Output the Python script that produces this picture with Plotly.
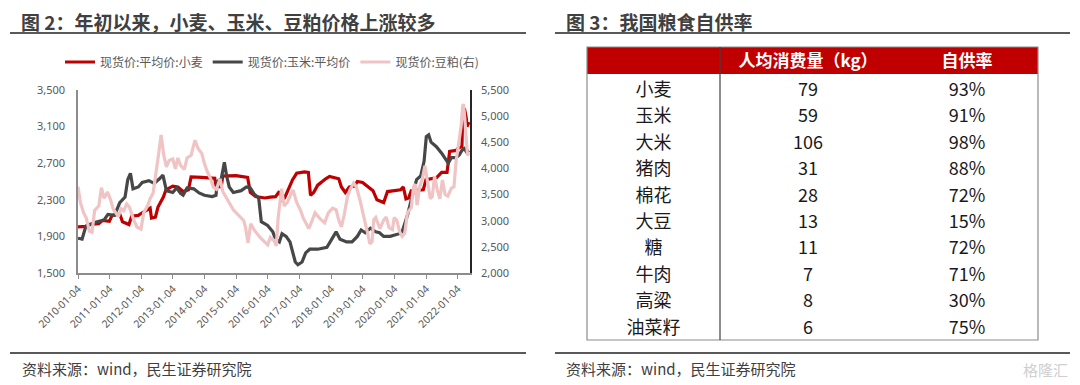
import plotly.graph_objects as go

W, H = 1080, 385

# ---------------- Data: left chart ----------------
wheat_dates = ["2010-01-04","2010-04-01","2010-05-01","2010-09-01","2010-10-15","2011-01-01","2011-02-01",
    "2011-05-01","2011-06-01","2011-08-15","2011-09-15","2011-12-01","2012-01-01","2012-03-01","2012-04-15",
    "2012-05-01","2012-06-15","2012-07-15","2012-09-15","2012-10-15","2013-01-01","2013-03-01","2013-05-01",
    "2013-07-01","2013-08-01","2013-12-01","2014-02-01","2014-05-01","2014-05-15","2014-07-15","2014-08-01",
    "2015-01-01","2015-05-15","2015-06-15","2015-08-15","2015-12-01","2016-02-01","2016-04-01","2016-05-15",
    "2016-06-15","2016-07-15","2016-09-01","2016-10-15","2016-12-01","2017-03-01","2017-04-15","2017-05-10",
    "2017-06-15","2017-08-01","2017-11-01","2017-12-15","2018-04-01","2018-05-01","2018-06-15","2018-08-01",
    "2018-10-01","2018-11-01","2019-01-01","2019-03-01","2019-05-01","2019-06-15","2019-09-01","2019-10-15",
    "2020-01-01","2020-03-15","2020-04-15","2020-05-15","2020-06-15","2020-07-15","2020-12-01","2021-01-01",
    "2021-05-01","2021-07-01","2021-09-01","2021-10-01","2021-12-15","2022-01-15","2022-02-20","2022-03-01",
    "2022-03-20","2022-04-10","2022-04-20","2022-05-13"]
wheat_values = [2005,2010,2030,2040,2075,2065,2130,
    2145,2060,2030,2120,2130,2150,2190,2210,
    2100,2110,2220,2330,2410,2450,2440,2390,
    2410,2550,2545,2540,2535,2450,2440,2560,
    2565,2545,2380,2335,2320,2330,2335,2390,
    2300,2320,2420,2520,2590,2605,2600,2350,
    2380,2460,2530,2555,2530,2440,2380,2440,
    2450,2500,2490,2440,2400,2300,2270,2390,
    2400,2410,2440,2310,2320,2400,2410,2520,
    2540,2600,2600,2830,2840,2870,2880,3270,
    3300,3200,3100,3150]

corn_dates = ["2010-01-04","2010-02-20","2010-04-01","2010-07-01","2010-11-01","2010-12-15","2011-03-01",
    "2011-05-01","2011-07-01","2011-08-01","2011-09-01","2011-10-01","2011-12-01","2012-01-15","2012-04-01",
    "2012-06-01","2012-08-01","2012-09-10","2012-10-20","2013-01-01","2013-02-15","2013-04-01","2013-05-01",
    "2013-06-15","2013-09-01","2013-11-01","2014-01-01","2014-04-01","2014-05-15","2014-06-01","2014-07-15",
    "2014-08-20","2014-09-15","2014-10-15","2014-12-01","2015-03-01","2015-05-01","2015-06-15","2015-08-01",
    "2015-09-20","2015-10-20","2016-01-01","2016-03-01","2016-04-01","2016-05-15","2016-06-15","2016-08-01",
    "2016-09-15","2016-11-15","2016-12-15","2017-02-01","2017-03-15","2017-05-01","2017-08-01","2017-11-15",
    "2018-01-15","2018-03-01","2018-04-15","2018-07-01","2018-09-01","2018-11-01","2018-12-15","2019-02-01",
    "2019-04-01","2019-06-01","2019-07-15","2019-09-01","2019-11-15","2020-03-01","2020-04-01","2020-06-01",
    "2020-07-15","2020-09-15","2020-11-01","2020-12-10","2021-01-05","2021-02-01","2021-03-01","2021-05-01",
    "2021-07-01","2021-08-01","2021-09-15","2021-10-20","2021-12-15","2022-01-20","2022-02-20","2022-03-20",
    "2022-04-15","2022-05-13"]
corn_values = [1880,1870,2000,2050,2080,2140,2130,
    2270,2330,2520,2590,2420,2440,2490,2510,
    2480,2530,2570,2400,2380,2430,2370,2350,
    2430,2420,2375,2350,2335,2350,2500,2530,
    2710,2560,2440,2380,2400,2440,2430,2360,
    2320,2060,2020,1950,1870,1840,1930,1900,
    1840,1620,1590,1620,1720,1760,1760,1780,
    1870,1950,1870,1840,1840,1900,1970,1940,
    1990,1950,1940,1900,1900,1930,1950,2130,
    2300,2520,2560,2720,2990,3010,2930,2880,
    2810,2770,2700,2760,2760,2790,2840,2860,
    2820,2840]

meal_dates = ["2010-01-04","2010-02-01","2010-03-10","2010-04-10","2010-05-15","2010-06-15","2010-07-15",
    "2010-09-01","2010-10-01","2010-11-01","2010-12-10","2011-01-15","2011-02-15","2011-03-15","2011-04-15",
    "2011-05-15","2011-06-15","2011-07-20","2011-08-20","2011-10-01","2011-11-15","2012-01-01","2012-02-01",
    "2012-03-15","2012-04-15","2012-05-20","2012-06-20","2012-07-20","2012-08-20","2012-09-20","2012-10-20",
    "2012-11-20","2013-01-01","2013-02-01","2013-03-01","2013-04-01","2013-05-15","2013-06-15","2013-08-01",
    "2013-09-15","2013-10-20","2013-12-01","2014-01-01","2014-02-01","2014-03-15","2014-04-15","2014-05-20",
    "2014-07-01","2014-08-01","2014-09-15","2014-10-20","2014-12-01","2015-01-15","2015-03-01","2015-04-01",
    "2015-04-20","2015-05-20","2015-06-20","2015-08-01","2015-10-01","2015-11-15","2016-01-01","2016-02-01",
    "2016-03-15","2016-04-10","2016-05-01","2016-06-10","2016-07-10","2016-08-15","2016-10-20","2016-12-01",
    "2017-01-15","2017-02-15","2017-03-20","2017-04-20","2017-06-01","2017-07-01","2017-09-01","2017-10-20",
    "2017-12-01","2018-01-20","2018-03-01","2018-04-01","2018-05-01","2018-06-01","2018-07-10","2018-08-10",
    "2018-09-20","2018-10-20","2018-12-01","2019-01-01","2019-02-01","2019-03-01","2019-03-25","2019-04-20",
    "2019-05-10","2019-06-01","2019-07-20","2019-09-01","2019-10-01","2019-11-01","2019-12-10","2020-01-01",
    "2020-02-01","2020-03-01","2020-04-01","2020-05-01","2020-06-01","2020-07-15","2020-08-10","2020-09-01",
    "2020-09-20","2020-10-20","2020-11-20","2020-12-20","2021-01-20","2021-02-20","2021-03-15","2021-04-10",
    "2021-05-10","2021-06-10","2021-07-10","2021-08-10","2021-09-10","2021-10-20","2021-11-20","2021-12-15",
    "2022-01-15","2022-02-10","2022-03-01","2022-03-10","2022-03-25","2022-04-10","2022-04-25","2022-05-13"]
meal_values = [3650,3350,3150,3050,2800,2780,3200,
    3280,3630,3430,3550,3400,3220,3150,3080,
    3230,3190,3320,3260,3050,2880,2840,3150,
    3280,3420,3530,3950,4250,4640,4250,4030,
    4150,4180,3990,4200,4060,3980,4200,4250,
    4540,4380,4290,4100,3950,3800,3640,3600,
    3800,3560,3420,3330,3210,3130,3050,3000,
    2880,2580,2940,2820,2690,2620,2540,2680,
    2620,2520,3050,3610,3280,3350,3590,3350,
    3200,3050,2950,2850,3020,3150,3030,2960,
    3150,3240,3210,3010,2880,3100,3460,3600,
    3720,3650,3400,3150,2950,2760,2560,2600,
    3020,3060,2850,3010,3070,2870,2830,3060,
    3000,2800,2700,2760,3150,3250,3650,3700,
    3300,3650,3800,4050,3700,3420,3460,3850,
    3600,3420,3780,3500,3470,3620,3650,4150,
    4500,4800,5200,5230,4950,4450,4250,4300]

series_names = ["现货价:平均价:小麦", "现货价:玉米:平均价", "现货价:豆粕(右)"]
year_ticks = ["2010-01-04","2011-01-04","2012-01-04","2013-01-04","2014-01-04","2015-01-04","2016-01-04",
              "2017-01-04","2018-01-04","2019-01-04","2020-01-04","2021-01-04","2022-01-04"]

# ---------------- Data: right table ----------------
table_header = ["", "人均消费量（kg）", "自供率"]
foods = ["小麦", "玉米", "大米", "猪肉", "棉花", "大豆", "糖", "牛肉", "高粱", "油菜籽"]
consumption_kg = [79, 59, 106, 31, 28, 13, 11, 7, 8, 6]
self_supply_pct = [93, 91, 98, 88, 72, 15, 72, 71, 30, 75]

# ---------------- Figure ----------------
CJK = "Noto Sans CJK SC"
OFF = 8  # page body margin offset

def sx(x):
    return (x - OFF) / W

def sy(y):
    return 1 - (y - OFF) / H

fig = go.Figure()
fig.add_trace(go.Scatter(x=wheat_dates, y=wheat_values, name=series_names[0], mode="lines",
                         line=dict(color="#C00000", width=3.2), xaxis="x", yaxis="y"))
fig.add_trace(go.Scatter(x=corn_dates, y=corn_values, name=series_names[1], mode="lines",
                         line=dict(color="#474747", width=3.2), xaxis="x", yaxis="y"))
fig.add_trace(go.Scatter(x=meal_dates, y=meal_values, name=series_names[2], mode="lines",
                         line=dict(color="#F0C4C4", width=3.2), xaxis="x", yaxis="y2"))

# table: fills/borders drawn as shapes, the table traces carry the text
TBL_L, TBL_R, TBL_T, HDR_B, TBL_B = 587, 1038, 47, 74, 340
col_w = [133, 176, 142]
clear = "rgba(0,0,0,0)"
header_text = ["<b>%s</b>" % h for h in table_header]
# body rows (its own header is a blank spacer row)
fig.add_trace(go.Table(
    domain=dict(x=[sx(TBL_L), sx(TBL_R)], y=[sy(350), sy(52.4)]),
    columnwidth=col_w,
    header=dict(values=["\u00a0"] * len(table_header), fill_color=clear, line=dict(color=clear, width=0),
                height=22, align="center", font=dict(color=clear, size=15, family=CJK)),
    cells=dict(values=[foods, [str(v) for v in consumption_kg], ["%d%%" % v for v in self_supply_pct]],
               fill_color=clear, line=dict(color=clear, width=0), height=26.4,
               align="center", font=dict(color="#1a1a1a", size=18, family=CJK)),
))
# visible header text
fig.add_trace(go.Table(
    domain=dict(x=[sx(TBL_L), sx(TBL_R)], y=[sy(130), sy(39)]),
    columnwidth=col_w,
    header=dict(values=header_text, fill_color=clear,
                line=dict(color=clear, width=0), height=27, align="center",
                font=dict(color="white", size=17, family=CJK)),
    cells=dict(values=[[""], [""], [""]], fill_color=clear, line=dict(color=clear, width=0), height=20,
               font=dict(color=clear, size=10)),
))

tick_font = dict(family="Noto Sans", size=11, color="#595959")
fig.update_layout(
    width=W, height=H, margin=dict(l=0, r=0, t=0, b=0, autoexpand=False),
    paper_bgcolor="white", plot_bgcolor="rgba(0,0,0,0)",
    showlegend=True,
    legend=dict(orientation="h", x=sx(272), xanchor="center", y=sy(62), yanchor="middle",
                font=dict(family=CJK, size=12, color="#595959"), itemwidth=30,
                bgcolor="rgba(0,0,0,0)", traceorder="normal", tracegroupgap=0),
    xaxis=dict(domain=[sx(78), sx(470)], type="date", range=["2010-01-04", "2022-05-24"],
               tickvals=year_ticks, ticktext=year_ticks, tickangle=-45,
               tickfont=dict(family="Noto Sans", size=10.5, color="#595959"),
               showgrid=False, zeroline=False, showline=True, linecolor="#8c8c8c", linewidth=1.5,
               ticks="outside", ticklen=4, tickcolor="#8c8c8c", anchor="y", automargin=False),
    yaxis=dict(domain=[sy(273), sy(90)], range=[1500, 3500], dtick=400, tick0=1500, tickformat=",",
               tickfont=tick_font, showgrid=False, zeroline=False, showline=True,
               linecolor="#8c8c8c", linewidth=1.5, ticks="", anchor="x", automargin=False,
               ticklabelstandoff=9),
    yaxis2=dict(domain=[sy(273), sy(90)], range=[2000, 5500], dtick=500, tick0=2000, tickformat=",",
                tickfont=tick_font, showgrid=False, zeroline=False, showline=True,
                linecolor="#262626", linewidth=1.5, ticks="", overlaying="y", side="right",
                anchor="x", automargin=False, ticklabelstandoff=7),
)

# Titles, rules, sources
for x0, x1 in [(10, 526), (555, 1070)]:
    for yy in (33, 353):
        fig.add_shape(type="line", xref="paper", yref="paper", x0=sx(x0), x1=sx(x1), y0=sy(yy), y1=sy(yy),
                      line=dict(color="#595959", width=2))

title_font = dict(family=CJK, size=19, color="#404040", weight="bold")
fig.add_annotation(text="图 2：年初以来，小麦、玉米、豆粕价格上涨较多", x=sx(20), y=sy(21), xref="paper", yref="paper",
                   xanchor="left", yanchor="middle", showarrow=False, font=title_font, borderpad=0)
fig.add_annotation(text="图 3：我国粮食自供率", x=sx(565), y=sy(21), xref="paper", yref="paper",
                   xanchor="left", yanchor="middle", showarrow=False, font=title_font, borderpad=0)
src_font = dict(family=CJK, size=15, color="#404040")
for xs in (20, 564):
    fig.add_annotation(text="资料来源：wind，民生证券研究院", x=sx(xs), y=sy(368), xref="paper", yref="paper",
                       xanchor="left", yanchor="middle", showarrow=False, font=src_font)
fig.add_annotation(text="格隆汇", x=sx(1070), y=sy(369), xref="paper", yref="paper",
                   xanchor="right", yanchor="middle", showarrow=False,
                   font=dict(family=CJK, size=15, color="#cfcfcf"))

# Table header fill, outline and column divider
fig.add_shape(type="rect", xref="paper", yref="paper", x0=sx(TBL_L), x1=sx(TBL_R), y0=sy(HDR_B), y1=sy(TBL_T),
              fillcolor="#C00000", line=dict(width=0), layer="below")
fig.add_shape(type="rect", xref="paper", yref="paper", x0=sx(TBL_L), x1=sx(TBL_R), y0=sy(TBL_B), y1=sy(TBL_T),
              line=dict(color="#8c8c8c", width=1.2), layer="below")
fig.add_shape(type="line", xref="paper", yref="paper", x0=sx(720), x1=sx(720), y0=sy(TBL_B), y1=sy(TBL_T),
              line=dict(color="#404040", width=1.2), layer="below")

fig.write_html("out.html")
